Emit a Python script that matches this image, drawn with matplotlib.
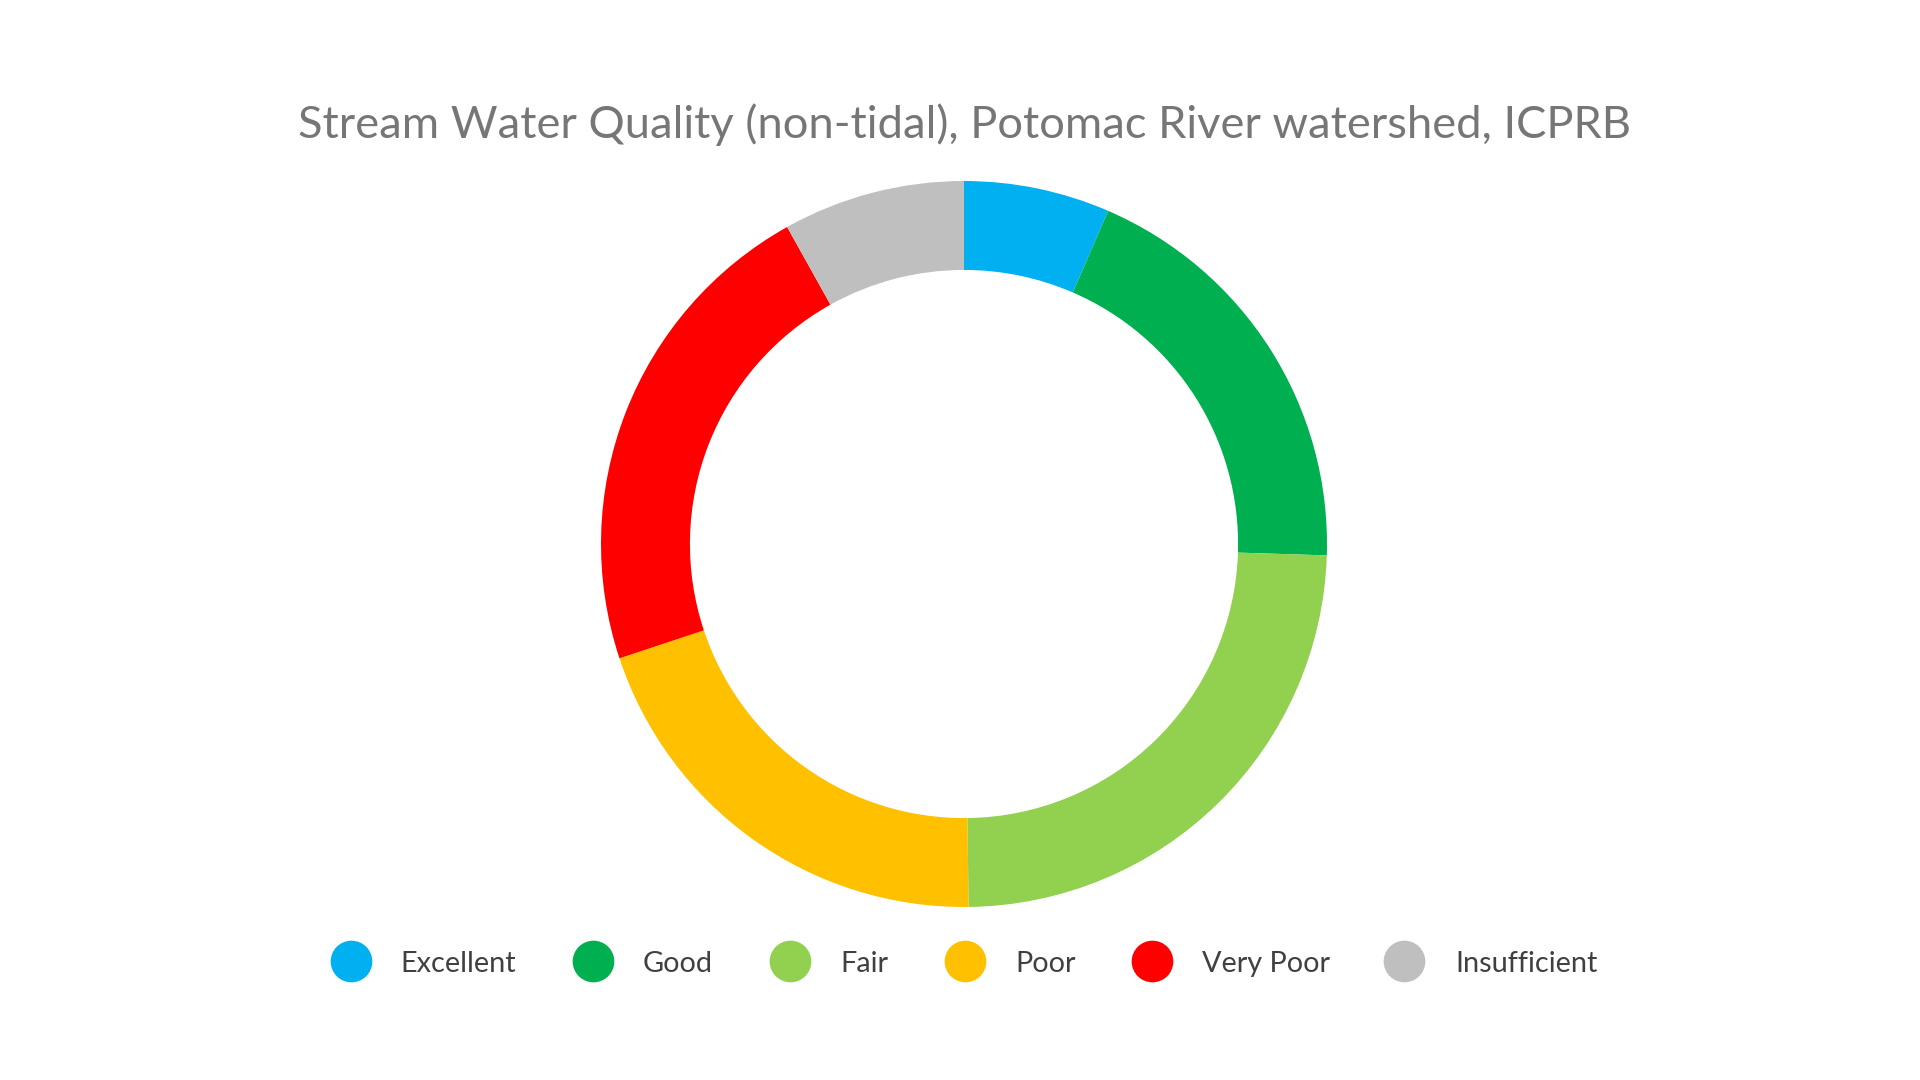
import matplotlib
matplotlib.use("Agg")
import matplotlib.pyplot as plt

categories = ["Excellent", "Good", "Fair", "Poor", "Very Poor", "Insufficient"]
values = [6.5, 19.0, 24.3, 20.1, 22.0, 8.1]
colors = ["#00B0F0", "#00B050", "#92D050", "#FFC000", "#FF0000", "#BFBFBF"]
title = "Stream Water Quality (non-tidal), Potomac River watershed, ICPRB"

FONT = ["Lato", "DejaVu Sans"]

fig = plt.figure(figsize=(19.2, 10.8), dpi=100)
fig.patch.set_facecolor("white")

# donut axes: center (963,544) px, outer radius 363 px
W, H = 1920, 1080
cx, cy, r = 964, 544, 363
ax = fig.add_axes([(cx - r) / W, (H - cy - r) / H, 2 * r / W, 2 * r / H])
ax.pie(values, colors=colors, startangle=90, counterclock=False, radius=1.0,
       wedgeprops=dict(width=0.245, linewidth=0, antialiased=True))
ax.set_xlim(-1, 1)
ax.set_ylim(-1, 1)
ax.set_aspect("equal")
ax.axis("off")

fig.text(cx / W, 1 - 125 / H, title, ha="center", va="center",
         fontsize=32.6, color="#767676", family=FONT)

# legend
marker_x = [351, 593, 790, 965, 1152, 1404]
text_x = [400, 643, 840, 1015, 1202, 1455]
ly = 961
lax = fig.add_axes([0, 0, 1, 1], zorder=-1)
lax.set_xlim(0, W)
lax.set_ylim(H, 0)
lax.axis("off")
for name, col, mx, tx in zip(categories, colors, marker_x, text_x):
    lax.scatter([mx], [ly], s=(30.0) ** 2, color=col, linewidths=0)
    lax.text(tx, ly + 3, name, ha="left", va="center", fontsize=20.8,
             color="#404040", family=FONT)

fig.savefig("out.png", dpi=100, facecolor="white")
